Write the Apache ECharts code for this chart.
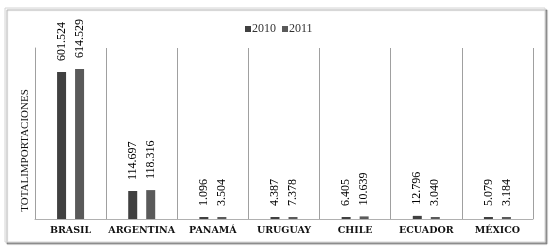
<!DOCTYPE html>
<html><head><meta charset="utf-8">
<script src="https://cdn.jsdelivr.net/npm/echarts@6/dist/echarts.min.js"></script>
<style>html,body{margin:0;padding:0;background:#fff}#c{width:557px;height:252px}</style>
</head><body><div id="c"></div>
<script>
const categories = ['BRASIL','ARGENTINA','PANAMÁ','URUGUAY','CHILE','ECUADOR','MÉXICO'];
const seriesNames = ['2010','2011'];
const values2010 = [601.524, 114.697, 1.096, 4.387, 6.405, 12.796, 5.079];
const values2011 = [614.529, 118.316, 3.504, 7.378, 10.639, 3.040, 3.184];
const axisTitle = 'TOTALIMPORTACIONES';

const chart = echarts.init(document.getElementById('c'), null, {renderer:'canvas'});
const labelCfg = {
  show: true, position: 'top', rotate: 90, align: 'left', verticalAlign: 'middle',
  distance: 11, fontFamily: 'Liberation Serif', fontSize: 12, color: '#000',
  formatter: p => p.value.toFixed(3)
};
chart.setOption({
  animation: false,
  graphic: [{
    type: 'rect', z: -10, shape: {x: 5, y: 8, width: 540, height: 234},
    style: {fill: '#fff', stroke: '#d4d4d4', lineWidth: 1,
      shadowColor: 'rgba(0,0,0,0.35)', shadowOffsetX: 2, shadowOffsetY: 2, shadowBlur: 1}
  }],
  legend: {
    data: seriesNames, left: 240, top: 18, itemWidth: 6, itemHeight: 6, itemGap: 6,
    icon: 'rect', textStyle: {fontFamily: 'Liberation Serif', fontSize: 12, color: '#333', padding: [0,0,0,-4]}
  },
  grid: {left: 35, right: 24, top: 48, bottom: 33, containLabel: false},
  xAxis: {
    type: 'category', data: categories,
    axisLine: {show: true, lineStyle: {color: '#b0b0b0'}},
    axisTick: {show: false},
    splitLine: {show: true, interval: 0, lineStyle: {color: '#a0a0a0'}},
    axisLabel: {interval: 0, fontFamily: 'DejaVu Serif', fontWeight: 'bold', fontSize: 9.5, color: '#111', margin: 7}
  },
  yAxis: {
    type: 'value', min: 0, max: 700,
    axisLine: {show: true, lineStyle: {color: '#a0a0a0'}},
    axisTick: {show: false}, axisLabel: {show: false}, splitLine: {show: false},
    name: axisTitle, nameLocation: 'middle', nameGap: 4,
    nameTextStyle: {fontFamily: 'Liberation Serif', fontSize: 11, color: '#111', padding: [0, 34, 0, 0]}
  },
  series: [
    {name: seriesNames[0], type: 'bar', data: values2010, barWidth: 9, barGap: '100%', barMinHeight: 2,
     itemStyle: {color: '#404040'}, label: labelCfg},
    {name: seriesNames[1], type: 'bar', data: values2011, barWidth: 9, barGap: '100%', barMinHeight: 2,
     itemStyle: {color: '#5a5a5a'}, label: labelCfg}
  ]
});
</script></body></html>
